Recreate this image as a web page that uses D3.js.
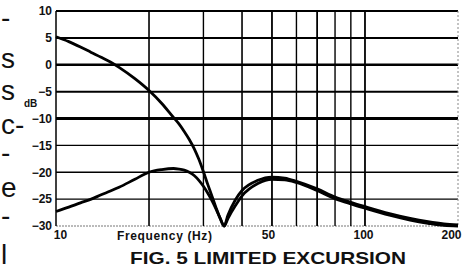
<!DOCTYPE html>
<html>
<head>
<meta charset="utf-8">
<title>Fig. 5 Limited Excursion</title>
<script src="https://cdn.jsdelivr.net/npm/d3@7/dist/d3.min.js"></script>
<style>
  body { margin: 0; background: #fff; }
  svg text { font-family: "Liberation Sans", Arial, sans-serif; fill: #111; }
</style>
</head>
<body>
<div id="chart"></div>
<script>
// frequency points (Hz) and the two response curves (dB)
var freqs   = [10, 11, 12, 13, 14, 15, 16, 18, 20, 22, 24, 25, 26, 27, 28, 29, 30, 31, 32, 33, 34, 35,
               36, 38, 40, 45, 50, 55, 60, 70, 80, 90, 100, 120, 140, 160, 180, 200];
var curveA  = [5.2, 4.3, 3.3, 2.3, 1.4, 0.5, -0.5, -2.6, -4.8, -7.2, -9.8, -11.0, -12.4, -13.9, -15.6, -17.6, -19.9, -22.3, -24.5, -26.7, -28.6, -30,
               -28.0, -25.2, -23.4, -21.5, -20.9, -21.1, -21.7, -23.1, -24.6, -25.6, -26.4, -27.7, -28.6, -29.2, -29.6, -29.8];
var curveB  = [-27.3, -26.5, -25.7, -25.0, -24.2, -23.5, -22.8, -21.3, -20.0, -19.5, -19.3, -19.4, -19.6, -20.0, -20.6, -21.5, -22.6, -23.9, -25.3, -26.9, -28.6, -30,
               -28.6, -26.3, -24.4, -22.1, -21.3, -21.4, -21.9, -23.4, -24.9, -25.9, -26.7, -28.0, -28.9, -29.5, -29.9, -30];
var yTicks  = [10, 5, 0, -5, -10, -15, -20, -25, -30];
var xGrid   = [10, 20, 30, 40, 50, 60, 70, 80, 90, 100, 200];
var xLabels = [10, 50, 100, 200];

var W = 474, H = 271;
var svg = d3.select("#chart").append("svg")
    .attr("width", W).attr("height", H);
svg.append("rect").attr("width", W).attr("height", H).attr("fill", "#fff");

var x = d3.scaleLog().domain([10, 200]).range([56, 458]);
var y = d3.scaleLinear().domain([-30, 10]).range([226, 11]);

// horizontal grid
var hw = { "10": 2, "5": 2, "0": 2.5, "-5": 2, "-10": 3, "-15": 1.3, "-20": 1.3, "-25": 1.3, "-30": 1 };
svg.selectAll("line.h").data(yTicks).enter().append("line")
    .attr("class", "h")
    .attr("x1", x(10)).attr("x2", x(200))
    .attr("y1", function (d) { return y(d); })
    .attr("y2", function (d) { return y(d); })
    .attr("stroke", function (d) { return d === -30 ? "#777" : "#000"; })
    .attr("stroke-dasharray", function (d) { return d === -30 ? "2,1" : null; })
    .attr("stroke-width", function (d) { return hw[d]; });

// vertical grid
var vw = { "10": 1.5, "20": 1.6, "30": 1.4, "40": 1.6, "50": 1.8, "60": 1.4, "70": 1.8, "80": 1.4, "90": 1.4, "100": 1.8, "200": 1 };
svg.selectAll("line.v").data(xGrid).enter().append("line")
    .attr("class", "v")
    .attr("x1", function (d) { return x(d); })
    .attr("x2", function (d) { return x(d); })
    .attr("y1", y(10)).attr("y2", y(-30))
    .attr("stroke", function (d) { return d === 200 ? "#888" : "#000"; })
    .attr("stroke-dasharray", function (d) { return d === 200 ? "2,2" : null; })
    .attr("stroke-width", function (d) { return vw[d]; });

// curves
var line = d3.line()
    .x(function (d) { return x(d[0]); })
    .y(function (d) { return y(d[1]); })
    .curve(d3.curveMonotoneX);
[curveA, curveB].forEach(function (c) {
    svg.append("path")
        .datum(freqs.map(function (f, i) { return [f, c[i]]; }))
        .attr("d", line)
        .attr("fill", "none")
        .attr("stroke", "#000")
        .attr("stroke-width", 2.8)
        .attr("stroke-linejoin", "round");
});

// y axis labels
var yAxis = d3.axisLeft(y).tickValues(yTicks).tickSize(0).tickPadding(4);
var gy = svg.append("g").attr("transform", "translate(" + x(10) + ",0)").call(yAxis);
gy.select(".domain").remove();
gy.selectAll("text").style("font-size", "12px").style("font-weight", "bold")
    .style("font-family", "'Liberation Sans', Arial, sans-serif");

// x axis labels
var xdx = { "10": 4, "50": -4, "100": -2, "200": -7 };
var xAxis = d3.axisBottom(x).tickValues(xLabels).tickFormat(d3.format("d")).tickSize(0).tickPadding(4);
var gx = svg.append("g").attr("transform", "translate(0," + y(-30) + ")").call(xAxis);
gx.select(".domain").remove();
gx.selectAll("text").attr("dx", function (d) { return xdx[d]; })
    .style("font-size", "12px").style("font-weight", "bold")
    .style("font-family", "'Liberation Sans', Arial, sans-serif");

svg.append("text").attr("x", 117).attr("y", 240)
    .attr("textLength", 95).attr("lengthAdjust", "spacing")
    .style("font-size", "12px").style("font-weight", "bold")
    .text("Frequency (Hz)");

svg.append("text").attr("x", 24).attr("y", 107)
    .style("font-size", "10px").style("font-weight", "bold")
    .text("dB");

svg.append("text").attr("x", 130).attr("y", 264)
    .attr("textLength", 276).attr("lengthAdjust", "spacingAndGlyphs")
    .style("font-size", "17px").style("font-weight", "bold")
    .text("FIG. 5 LIMITED EXCURSION");

// text of the neighbouring column, seen at the left edge
var edge = [["-", 27], ["s", 68], ["s", 100], ["c-", 134], ["-", 162], ["e", 197], ["-", 225], ["l", 264]];
svg.selectAll("text.edge").data(edge).enter().append("text")
    .attr("class", "edge")
    .attr("x", 1)
    .attr("y", function (d) { return d[1]; })
    .style("font-size", "28px")
    .text(function (d) { return d[0]; });
</script>
</body>
</html>
